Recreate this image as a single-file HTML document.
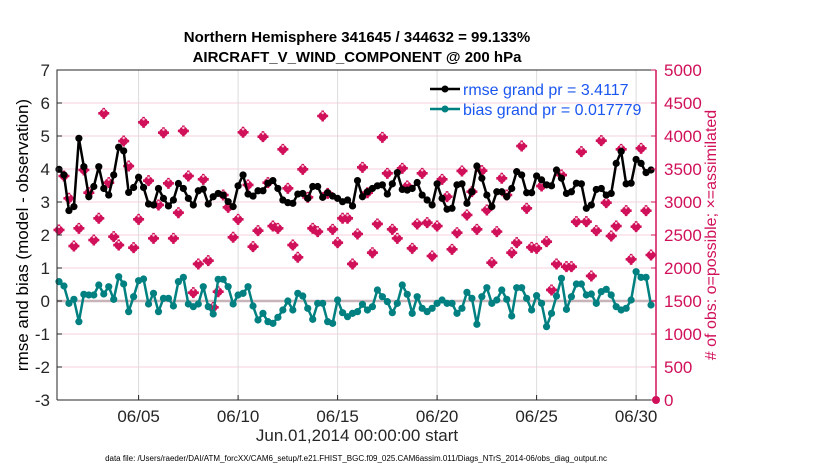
<!DOCTYPE html>
<html><head><meta charset="utf-8">
<style>
body{margin:0;background:#fff;}
svg{display:block;font-family:"Liberation Sans",Arial,sans-serif;}
</style></head>
<body>
<svg id="chart" width="830" height="470" viewBox="0 0 830 470">
<text x="357" y="42" text-anchor="middle" font-size="15" font-weight="bold">Northern Hemisphere 341645 / 344632 = 99.133%</text>
<text x="357" y="62" text-anchor="middle" font-size="15" font-weight="bold">AIRCRAFT_V_WIND_COMPONENT @ 200 hPa</text>
<g id="grid"></g>
<g id="marks"></g>
<g id="axes"></g>
<text x="0" y="0" transform="translate(28,235) rotate(-90)" text-anchor="middle" font-size="17">rmse and bias (model - observation)</text>
<text x="0" y="0" transform="translate(716,235) rotate(-90)" text-anchor="middle" font-size="16" fill="#d1105a"># of obs: o=possible; ×=assimilated</text>
<text x="357" y="441" text-anchor="middle" font-size="17" fill="#262626">Jun.01,2014 00:00:00 start</text>
<text x="356" y="461" text-anchor="middle" font-size="8" fill="#000">data file: /Users/raeder/DAI/ATM_forcXX/CAM6_setup/f.e21.FHIST_BGC.f09_025.CAM6assim.011/Diags_NTrS_2014-06/obs_diag_output.nc</text>
<g>
<line x1="430" y1="89" x2="460" y2="89" stroke="#000" stroke-width="2.5"/>
<circle cx="445" cy="89" r="3.5" fill="#000"/>
<text x="463" y="95" font-size="16" fill="#1a56f0">rmse grand pr = 3.4117</text>
<line x1="430" y1="109" x2="460" y2="109" stroke="#008080" stroke-width="2.5"/>
<circle cx="445" cy="109" r="3.5" fill="#008080"/>
<text x="463" y="115" font-size="16" fill="#1a56f0">bias grand pr = 0.017779</text>
</g>
</svg>
<script>
const rmse=[3.99,3.82,2.74,2.86,4.93,4.07,3.16,3.47,4.07,3.41,3.21,3.82,4.66,4.55,3.29,3.44,3.75,3.44,2.94,2.91,3.41,3.11,2.88,3.06,3.56,3.41,3.11,2.91,3.34,3.39,2.94,3.16,3.26,3.21,3.01,2.86,3.49,3.82,3.24,3.18,3.34,3.34,
3.57,3.65,3.41,3.06,2.98,2.96,3.24,3.26,3.11,3.47,3.47,3.14,3.28,3.18,3.11,3.01,3.06,2.88,3.65,3.16,3.31,3.41,3.49,3.52,3.24,3.55,3.89,3.38,3.36,3.41,3.59,3.21,3.06,2.91,3.55,3.11,2.78,2.81,3.52,3.55,
2.96,3.31,4.09,3.72,3.21,2.86,3.31,3.31,3.16,3.41,3.92,3.82,3.28,3.28,3.79,3.67,3.52,3.49,3.97,3.72,3.26,3.31,3.57,3.55,2.81,2.91,3.38,3.41,3.21,3.26,4.17,4.53,3.55,3.57,4.29,4.17,3.89,3.97];
const bias=[0.586,0.455,-0.071,0.05,-0.626,0.202,0.182,0.182,0.485,0.212,0.434,0.05,0.737,0.515,-0.323,0.131,0.616,0.667,-0.091,0.232,-0.323,0.081,0.081,-0.152,0.586,0.717,-0.091,-0.172,-0.091,0.434,-0.172,-0.394,0.657,0.657,0.434,-0.091,0.182,0.232,0.434,-0.152,-0.576,-0.374,-0.626,-0.677,-0.495,-0.273,0,-0.273,0.232,0.151,-0.222,-0.556,-0.071,-0.071,-0.626,-0.677,0.03,-0.354,-0.475,-0.374,
-0.323,-0.101,-0.273,-0.172,0.333,0.131,-0.02,-0.354,-0.071,0.485,0.202,-0.374,0.131,-0.222,-0.323,-0.222,-0.071,0.03,-0.071,-0.071,-0.374,-0.222,0.262,0.081,-0.707,0.131,0.404,-0.071,0.03,0.333,0.05,-0.455,0.404,0.404,0.081,-0.273,0.162,-0.071,-0.778,-0.374,0.151,0.687,-0.253,0.131,0.515,0.515,0.182,0.212,-0.071,0.283,0.354,0.182,-0.172,-0.273,-0.222,0.03,0.889,0.717,0.717,-0.121];
const obsCount=[2576,3394,3056,2333,2601,3485,3141,2424,2753,4343,3293,2475,2348,3924,3545,2308,2737,4207,3323,2449,2955,4050,3283,2449,2838,4076,3394,1626,2061,3343,2111,1404,1641,3106,2919,2465,2737,4056,3258,2323,2566,3990,
3293,2636,2601,3798,3207,2348,2162,3495,3071,2601,2551,4303,3131,2586,2384,2753,2753,2061,2515,3525,3141,2232,2667,3980,3434,2586,2449,3510,3243,2298,2667,3434,2687,2182,2636,3343,3081,2283,2535,3470,
2803,3157,2586,3475,2879,2081,2551,3359,3106,2232,2384,3848,2904,2313,2298,3242,2399,1667,2061,3409,2020,2020,2702,3763,2702,1879,2566,3929,2990,2485,2636,3798,2869,2131,2626,3813,2869,2197];
const leftTicks=[-3,-2,-1,0,1,2,3,4,5,6,7];
const rightTicks=[0,500,1000,1500,2000,2500,3000,3500,4000,4500,5000];
const dateTicks=[4,9,14,19,24,29];
const dateLabels=["06/05","06/10","06/15","06/20","06/25","06/30"];
const stepDays=0.25;

const X0=57,X1=656,Y0=70,Y1=400,TMIN=-0.1,TMAX=30.0;
const xs=t=>X0+(t-TMIN)/(TMAX-TMIN)*(X1-X0);
const yl=v=>Y1-(v+3)/10*(Y1-Y0);
const yr=c=>Y1-c/5000*(Y1-Y0);
const NS="http://www.w3.org/2000/svg";
function mk(tag,attrs,parent){const e=document.createElementNS(NS,tag);for(const k in attrs)e.setAttribute(k,attrs[k]);parent.appendChild(e);return e;}
const grid=document.getElementById('grid'),marks=document.getElementById('marks'),axes=document.getElementById('axes');
const PINK="#d1105a";

leftTicks.forEach(v=>{const g=mk('line',{x1:X0,x2:X1,y1:yl(v),y2:yl(v),stroke:'#f4d0dc','stroke-width':1},grid);

});
dateTicks.forEach(t=>{const g=mk('line',{x1:xs(t),x2:xs(t),y1:Y0,y2:Y1,stroke:'#dcdcdc','stroke-width':1},grid);

});
const zl=mk('line',{x1:X0,x2:X1,y1:yl(0),y2:yl(0),stroke:'#c8b4b8','stroke-width':2.5},grid);



obsCount.forEach((c,i)=>{const x=xs(i*stepDays),y=yr(c);
const g=mk('g',{},marks);


mk('circle',{cx:x,cy:y,r:4.3,fill:PINK},g);
mk('path',{d:`M${x-5.5} ${y}H${x+5.5}M${x} ${y-5.5}V${y+5.5}`,stroke:PINK,'stroke-width':2.6},g);
mk('circle',{cx:x,cy:y-3,r:1.2,fill:'#f6c8d8'},g);});
const last=mk('circle',{cx:X1,cy:yr(0),r:4,fill:PINK},marks);



function series(arr,color,name){
const pts=arr.map((v,i)=>[xs(i*stepDays),yl(v)]);
const pl=mk('polyline',{points:pts.map(p=>p.join(',')).join(' '),fill:'none',stroke:color,'stroke-width':2.5,'stroke-linejoin':'round'},marks);


pts.forEach(p=>{const c=mk('circle',{cx:p[0],cy:p[1],r:3.6,fill:color},marks);

});}
series(bias,'#008080','bias');
series(rmse,'#000000','rmse');

const fr=mk('path',{d:`M${X0} ${Y1}V${Y0}H${X1}`,fill:'none',stroke:'#262626','stroke-width':1},axes);


const xb=mk('line',{x1:X0,x2:X1,y1:Y1,y2:Y1,stroke:'#262626','stroke-width':1},axes);


const ra=mk('line',{x1:X1,x2:X1,y1:Y0,y2:Y1,stroke:PINK,'stroke-width':1.5},axes);


leftTicks.forEach(v=>{mk('line',{x1:X0,x2:X0+5,y1:yl(v),y2:yl(v),stroke:'#262626'},axes);
const t=mk('text',{x:X0-7,y:yl(v)+6,'text-anchor':'end','font-size':17,fill:'#262626'},axes);t.textContent=v;

});
rightTicks.forEach(c=>{mk('line',{x1:X1-5,x2:X1,y1:yr(c),y2:yr(c),stroke:PINK},axes);
const t=mk('text',{x:X1+8,y:yr(c)+6,'font-size':17,fill:PINK},axes);t.textContent=c;

});
dateTicks.forEach((d,i)=>{mk('line',{x1:xs(d),x2:xs(d),y1:Y1,y2:Y1-5,stroke:'#262626'},axes);
const t=mk('text',{x:xs(d),y:Y1+22,'text-anchor':'middle','font-size':17,fill:'#262626'},axes);t.textContent=dateLabels[i];

});
</script>
</body></html>
